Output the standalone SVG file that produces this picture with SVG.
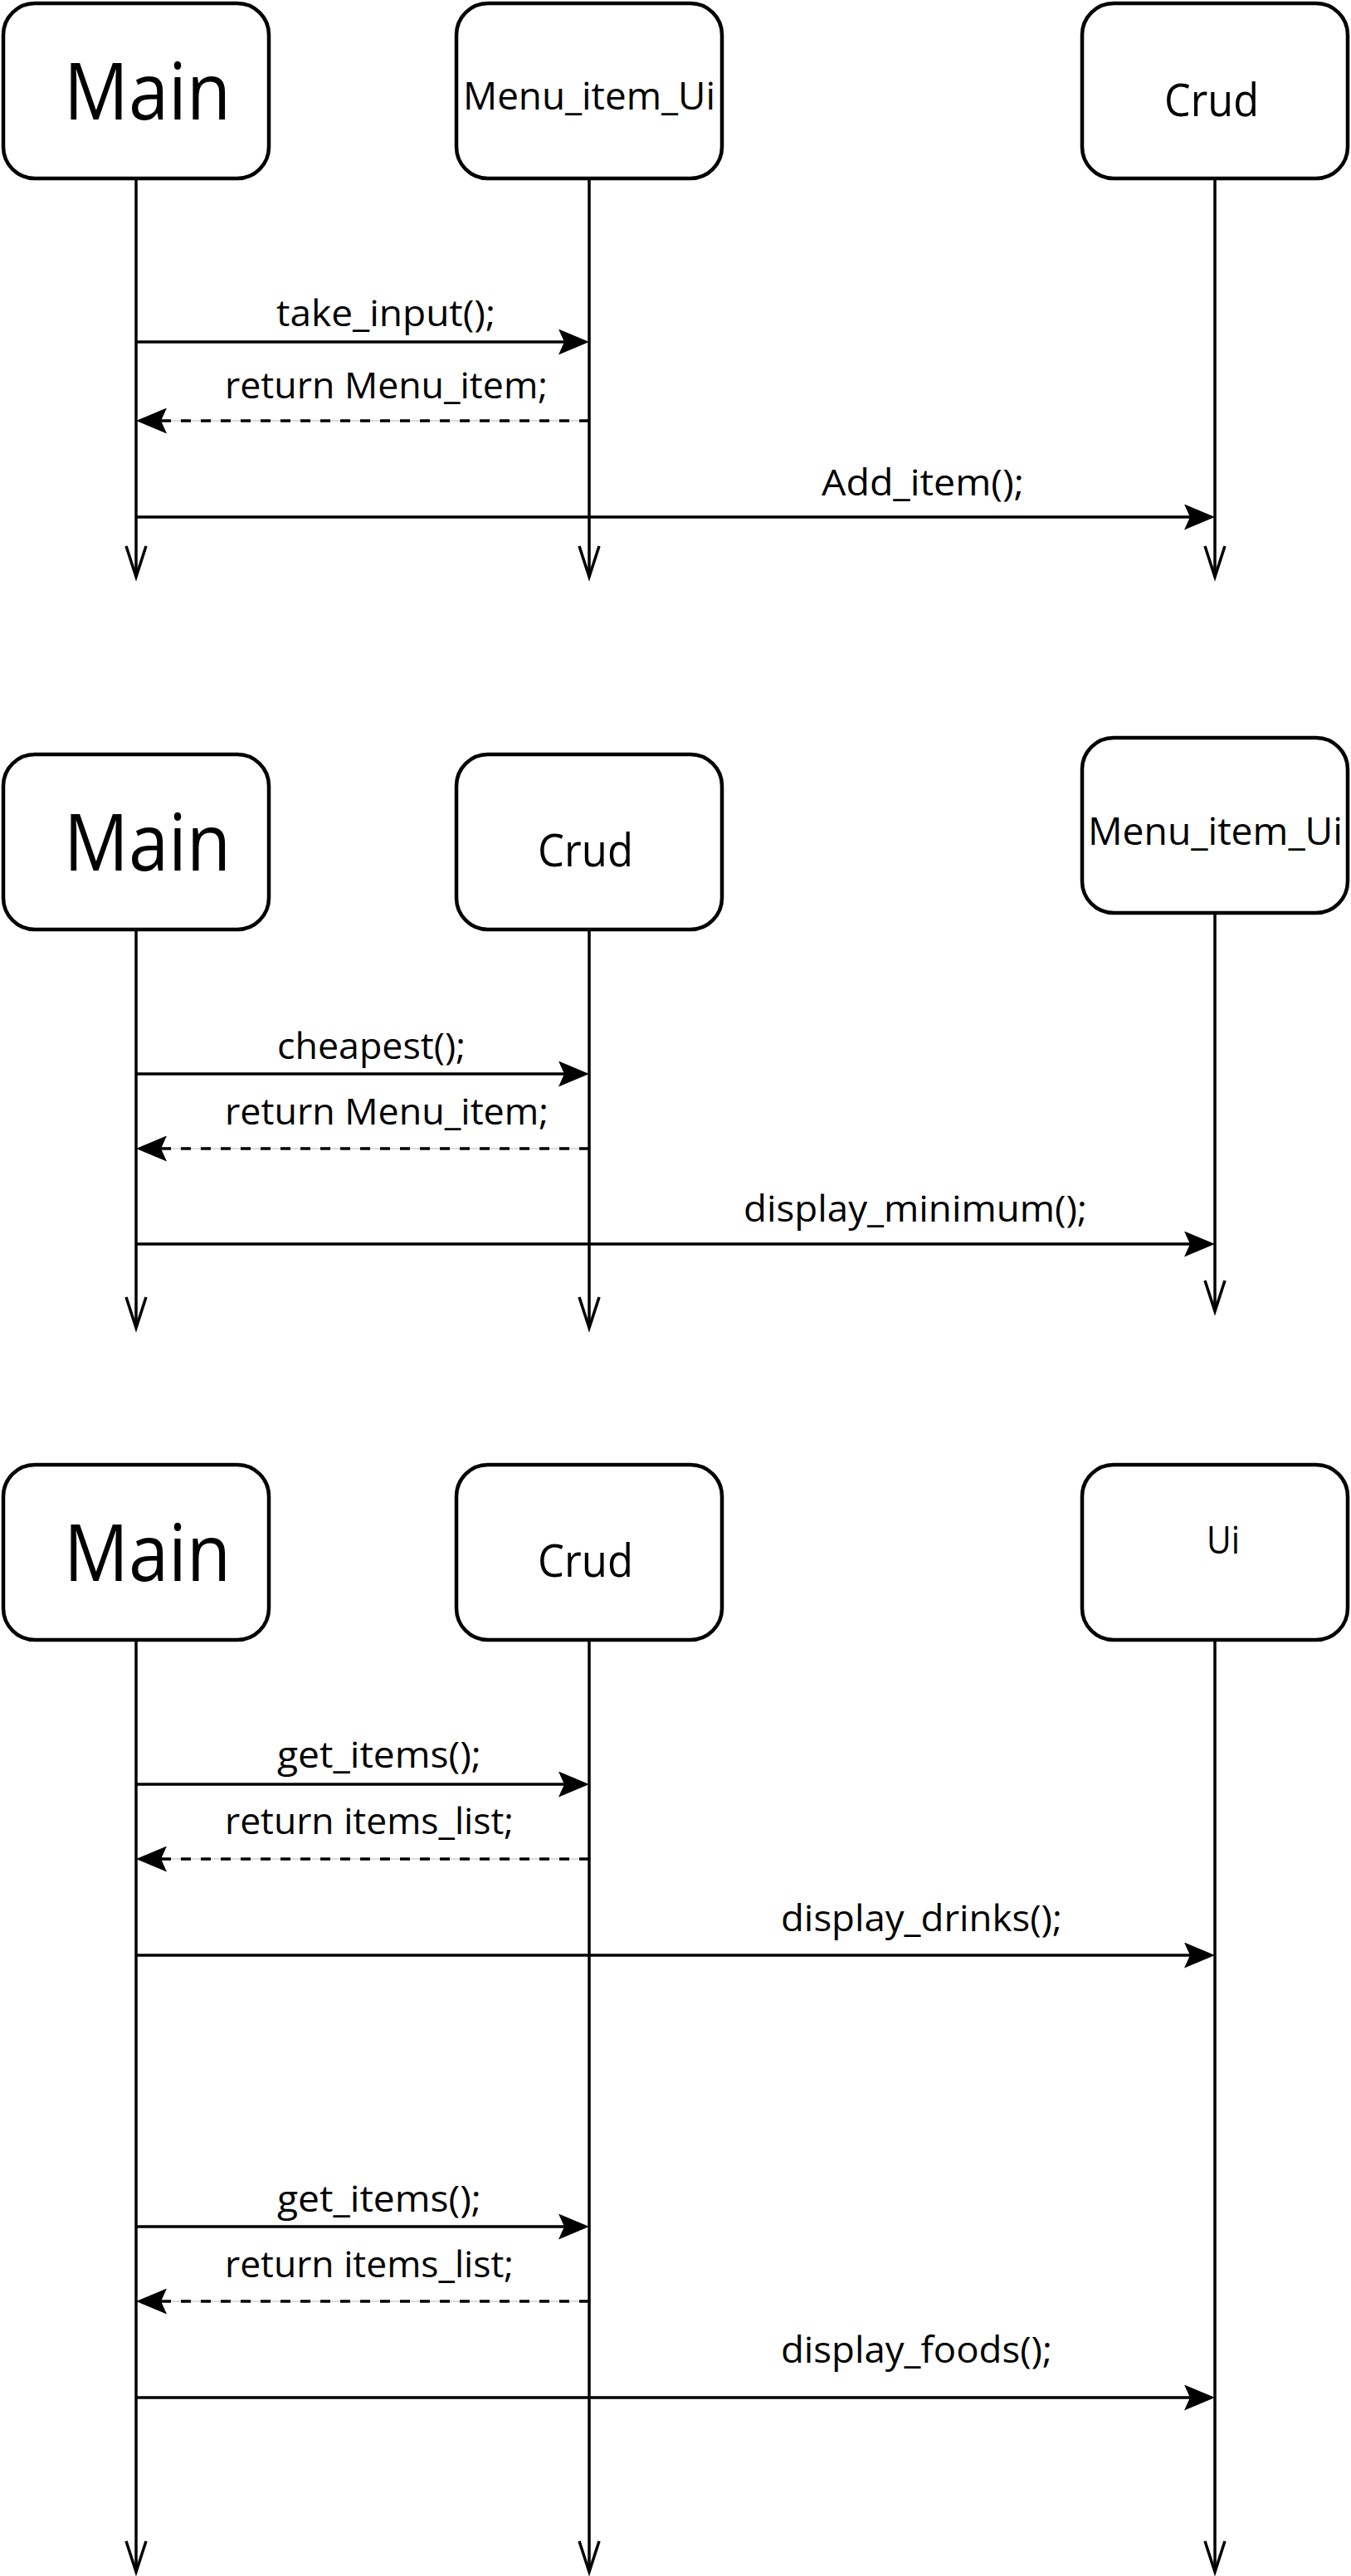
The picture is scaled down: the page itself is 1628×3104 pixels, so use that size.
<svg xmlns="http://www.w3.org/2000/svg" width="1628" height="3104" viewBox="0 0 1628 3104">
<style>
.box{fill:#fff;stroke:#000;stroke-width:4.5}
.life{fill:none;stroke:#000;stroke-width:3.5;marker-end:url(#open)}
.msg{fill:none;stroke:#000;stroke-width:3.5;marker-end:url(#block)}
.ret{fill:none;stroke:#000;stroke-width:3.5;stroke-dasharray:12 12;marker-end:url(#block)}
.hair{fill:none;stroke:#bbb;stroke-width:1}
text{font-family:"Open Sans","Liberation Sans",sans-serif;fill:#000}
.lbl{font-size:44px}
.big{font-size:96px}
.mid{font-size:46px}
.crud{font-size:54px}
</style>
<defs>
<marker id="block" markerUnits="userSpaceOnUse" viewBox="0 0 37 31" markerWidth="37" markerHeight="31" refX="27" refY="15.5" orient="auto">
<path d="M37 15.5 L0 0 L7 15.5 L0 31 Z" fill="#000"/>
</marker>
<marker id="open" markerUnits="userSpaceOnUse" viewBox="-4 -4 45 32" markerWidth="45" markerHeight="32" refX="37" refY="12" orient="auto" overflow="visible">
<path d="M0 0 L37 12 L0 24" fill="none" stroke="#000" stroke-width="3.5"/>
</marker>
</defs>
<rect width="1628" height="3104" fill="#fff"/>

<g id="connectors">
<line class="life" x1="164" y1="217" x2="164" y2="695"/>
<line class="life" x1="710" y1="217" x2="710" y2="695"/>
<line class="life" x1="1464" y1="217" x2="1464" y2="695"/>
<line class="msg" x1="164" y1="412" x2="700" y2="412"/>
<line class="hair" x1="710" y1="507" x2="190" y2="507"/>
<line class="ret" x1="710" y1="507" x2="174" y2="507"/>
<line class="msg" x1="164" y1="623" x2="1454" y2="623"/>
<line class="life" x1="164" y1="1122" x2="164" y2="1600"/>
<line class="life" x1="710" y1="1122" x2="710" y2="1600"/>
<line class="life" x1="1464" y1="1102" x2="1464" y2="1580"/>
<line class="msg" x1="164" y1="1294" x2="700" y2="1294"/>
<line class="hair" x1="710" y1="1384" x2="190" y2="1384"/>
<line class="ret" x1="710" y1="1384" x2="174" y2="1384"/>
<line class="msg" x1="164" y1="1499" x2="1454" y2="1499"/>
<line class="life" x1="164" y1="1978" x2="164" y2="3099"/>
<line class="life" x1="710" y1="1978" x2="710" y2="3099"/>
<line class="life" x1="1464" y1="1978" x2="1464" y2="3099"/>
<line class="msg" x1="164" y1="2150" x2="700" y2="2150"/>
<line class="hair" x1="710" y1="2240" x2="190" y2="2240"/>
<line class="ret" x1="710" y1="2240" x2="174" y2="2240"/>
<line class="msg" x1="164" y1="2356" x2="1454" y2="2356"/>
<line class="msg" x1="164" y1="2683" x2="700" y2="2683"/>
<line class="hair" x1="710" y1="2773" x2="190" y2="2773"/>
<line class="ret" x1="710" y1="2773" x2="174" y2="2773"/>
<line class="msg" x1="164" y1="2889" x2="1454" y2="2889"/>
</g>

<g id="labels">
<text class="lbl" x="333" y="393" textLength="264" lengthAdjust="spacingAndGlyphs">take_input();</text>
<text class="lbl" x="271" y="480" textLength="389" lengthAdjust="spacingAndGlyphs">return Menu_item;</text>
<text class="lbl" x="990" y="597" textLength="244" lengthAdjust="spacingAndGlyphs">Add_item();</text>
<text class="lbl" x="334" y="1276" textLength="227" lengthAdjust="spacingAndGlyphs">cheapest();</text>
<text class="lbl" x="271" y="1355" textLength="390" lengthAdjust="spacingAndGlyphs">return Menu_item;</text>
<text class="lbl" x="896" y="1472" textLength="414" lengthAdjust="spacingAndGlyphs">display_minimum();</text>
<text class="lbl" x="334" y="2130" textLength="246" lengthAdjust="spacingAndGlyphs">get_items();</text>
<text class="lbl" x="271" y="2210" textLength="348" lengthAdjust="spacingAndGlyphs">return items_list;</text>
<text class="lbl" x="941" y="2327" textLength="339" lengthAdjust="spacingAndGlyphs">display_drinks();</text>
<text class="lbl" x="334" y="2665" textLength="246" lengthAdjust="spacingAndGlyphs">get_items();</text>
<text class="lbl" x="271" y="2744" textLength="348" lengthAdjust="spacingAndGlyphs">return items_list;</text>
<text class="lbl" x="941" y="2847" textLength="327" lengthAdjust="spacingAndGlyphs">display_foods();</text>
</g>

<g id="s1-main">
<rect class="box" x="4" y="4" width="320" height="211" rx="38"/>
<text class="big" x="77" y="144" textLength="201" lengthAdjust="spacingAndGlyphs">Main</text>
</g>
<g id="s1-menu-item-ui">
<rect class="box" x="550" y="4" width="320" height="211" rx="38"/>
<text class="mid" x="558" y="132" textLength="304" lengthAdjust="spacingAndGlyphs">Menu_item_Ui</text>
</g>
<g id="s1-crud">
<rect class="box" x="1304" y="4" width="320" height="211" rx="38"/>
<text class="crud" x="1403" y="140" textLength="114" lengthAdjust="spacingAndGlyphs">Crud</text>
</g>

<g id="s2-main">
<rect class="box" x="4" y="909" width="320" height="211" rx="38"/>
<text class="big" x="77" y="1049" textLength="201" lengthAdjust="spacingAndGlyphs">Main</text>
</g>
<g id="s2-crud">
<rect class="box" x="550" y="909" width="320" height="211" rx="38"/>
<text class="crud" x="648" y="1044" textLength="115" lengthAdjust="spacingAndGlyphs">Crud</text>
</g>
<g id="s2-menu-item-ui">
<rect class="box" x="1304" y="889" width="320" height="211" rx="38"/>
<text class="mid" x="1311" y="1018" textLength="307" lengthAdjust="spacingAndGlyphs">Menu_item_Ui</text>
</g>

<g id="s3-main">
<rect class="box" x="4" y="1765" width="320" height="211" rx="38"/>
<text class="big" x="77" y="1905" textLength="201" lengthAdjust="spacingAndGlyphs">Main</text>
</g>
<g id="s3-crud">
<rect class="box" x="550" y="1765" width="320" height="211" rx="38"/>
<text class="crud" x="648" y="1900" textLength="115" lengthAdjust="spacingAndGlyphs">Crud</text>
</g>
<g id="s3-ui">
<rect class="box" x="1304" y="1765" width="320" height="211" rx="38"/>
<text class="mid" x="1454" y="1872" textLength="40" lengthAdjust="spacingAndGlyphs">Ui</text>
</g>
</svg>
